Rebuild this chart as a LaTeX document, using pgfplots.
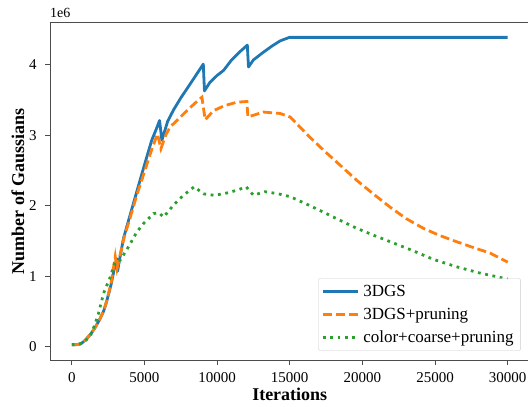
\documentclass[border=0pt]{standalone}
\usepackage{fontspec}
\setmainfont{Liberation Serif}
\usepackage{pgfplots}
\pgfplotsset{compat=1.18}

\definecolor{tabblue}{HTML}{1F77B4}
\definecolor{taborange}{HTML}{FF7F0E}
\definecolor{tabgreen}{HTML}{2CA02C}

% values in millions of Gaussians
\pgfplotstableread{
x y
0 0.03
300 0.03
600 0.04
800 0.07
1000 0.11
1300 0.18
1600 0.27
1900 0.38
2200 0.51
2420 0.66
2700 0.88
2900 1.08
3100 1.25
3150 1.07
3300 1.25
3560 1.54
4000 1.86
4500 2.22
5000 2.58
5500 2.93
5800 3.08
6040 3.21
6200 2.93
6600 3.20
7000 3.36
7500 3.53
8150 3.73
8600 3.87
9050 4.01
9130 3.63
9500 3.75
10000 3.85
10440 3.92
11000 4.07
11590 4.19
12080 4.28
12160 3.97
12500 4.07
13190 4.18
13800 4.27
14340 4.34
14980 4.39
30000 4.39
}\tblA

\pgfplotstableread{
x y
0 0.03
300 0.03
600 0.04
800 0.07
1000 0.11
1300 0.18
1600 0.27
1900 0.38
2200 0.51
2420 0.66
2700 0.90
2990 1.28
3110 1.11
3300 1.28
3600 1.55
4000 1.82
4500 2.17
5000 2.48
5500 2.80
5900 3.02
6135 2.81
6500 3.02
6775 3.12
7235 3.21
7920 3.35
8500 3.46
8955 3.54
9180 3.22
9755 3.35
10500 3.42
11360 3.47
12050 3.48
12120 3.26
13190 3.33
14340 3.31
15030 3.26
16400 2.97
17320 2.79
18500 2.57
19620 2.36
20800 2.16
21910 1.98
23000 1.82
24200 1.68
25300 1.58
26490 1.49
27600 1.41
28780 1.33
30000 1.20
}\tblB

\pgfplotstableread{
x y
0 0.03
400 0.03
800 0.06
1270 0.15
1600 0.32
1845 0.48
2190 0.76
2650 0.99
2990 1.21
3335 1.23
3910 1.42
4480 1.63
4940 1.75
5630 1.89
6000 1.90
6315 1.84
7000 2.01
7690 2.15
8425 2.27
9065 2.17
9755 2.15
10440 2.17
11360 2.22
12000 2.27
12500 2.15
13300 2.20
14200 2.17
15030 2.13
16200 2.02
17320 1.91
18500 1.79
19620 1.68
20800 1.58
21910 1.49
23400 1.37
24880 1.24
26400 1.14
28000 1.05
30000 0.96
}\tblC

\begin{document}
\begin{tikzpicture}
\begin{axis}[
    name=ax,
    anchor=south west, at={(0pt,0pt)},
    scale only axis,
    width=479.5pt, height=338pt,
    xmin=-1500, xmax=31500,
    ymin=-0.188, ymax=4.608,
    xtick={0,5000,...,30000},
    ytick={0,1,2,3,4},
    scaled x ticks=false, scaled y ticks=false,
    /pgf/number format/1000 sep={},
    /pgf/number format/assume math mode=true,
    x tick label style={yshift=-4.5pt},
    y tick label style={xshift=-5pt},
    tick label style={font=\fontsize{15}{15}\selectfont},
    tick align=outside,
    major tick length=4.9pt,
    xtick pos=bottom, ytick pos=left,
    axis line style={black!70, line width=0.9pt},
    every tick/.style={black!70, line width=0.9pt},
    xlabel={\textbf{Iterations}},
    ylabel={\textbf{Number of Gaussians}},
    label style={font=\fontsize{18}{18}\selectfont},
    xlabel style={at={(0.5,0)}, anchor=north, yshift=-24pt},
    ylabel style={at={(0,0.5)}, anchor=south, yshift=22pt},
    legend cell align=left,
    legend style={
        at={(0.982,0.0275)}, anchor=south east,
        draw=black!20, rounded corners=2pt, fill=white, fill opacity=0.8, text opacity=1,
        font=\fontsize{17}{17}\selectfont,
        inner xsep=3pt, inner ysep=2.5pt,
        row sep=2pt,
        nodes={inner ysep=1.5pt, inner xsep=4pt, text height=13.5pt, text depth=4.5pt},
    },
    legend image code/.code={\draw[#1] (0pt,0pt) -- (35pt,0pt);},
]
\addplot[tabblue, line width=2.8pt, line join=round] table {\tblA};
\addlegendentry{3DGS}
\addplot[taborange, line width=2.8pt, dash pattern=on 9pt off 4pt] table {\tblB};
\addlegendentry{3DGS+pruning}
\addplot[tabgreen, line width=2.8pt, dash pattern=on 2.8pt off 4.6pt] table {\tblC};
\addlegendentry{color+coarse+pruning}
\end{axis}
\node[anchor=south west, font=\fontsize{14}{14}\selectfont, inner sep=0pt] at (0pt,342pt) {1e6};
\pgfresetboundingbox
\path (-50pt,-47pt) rectangle (478pt,360pt);
\end{tikzpicture}
\end{document}
